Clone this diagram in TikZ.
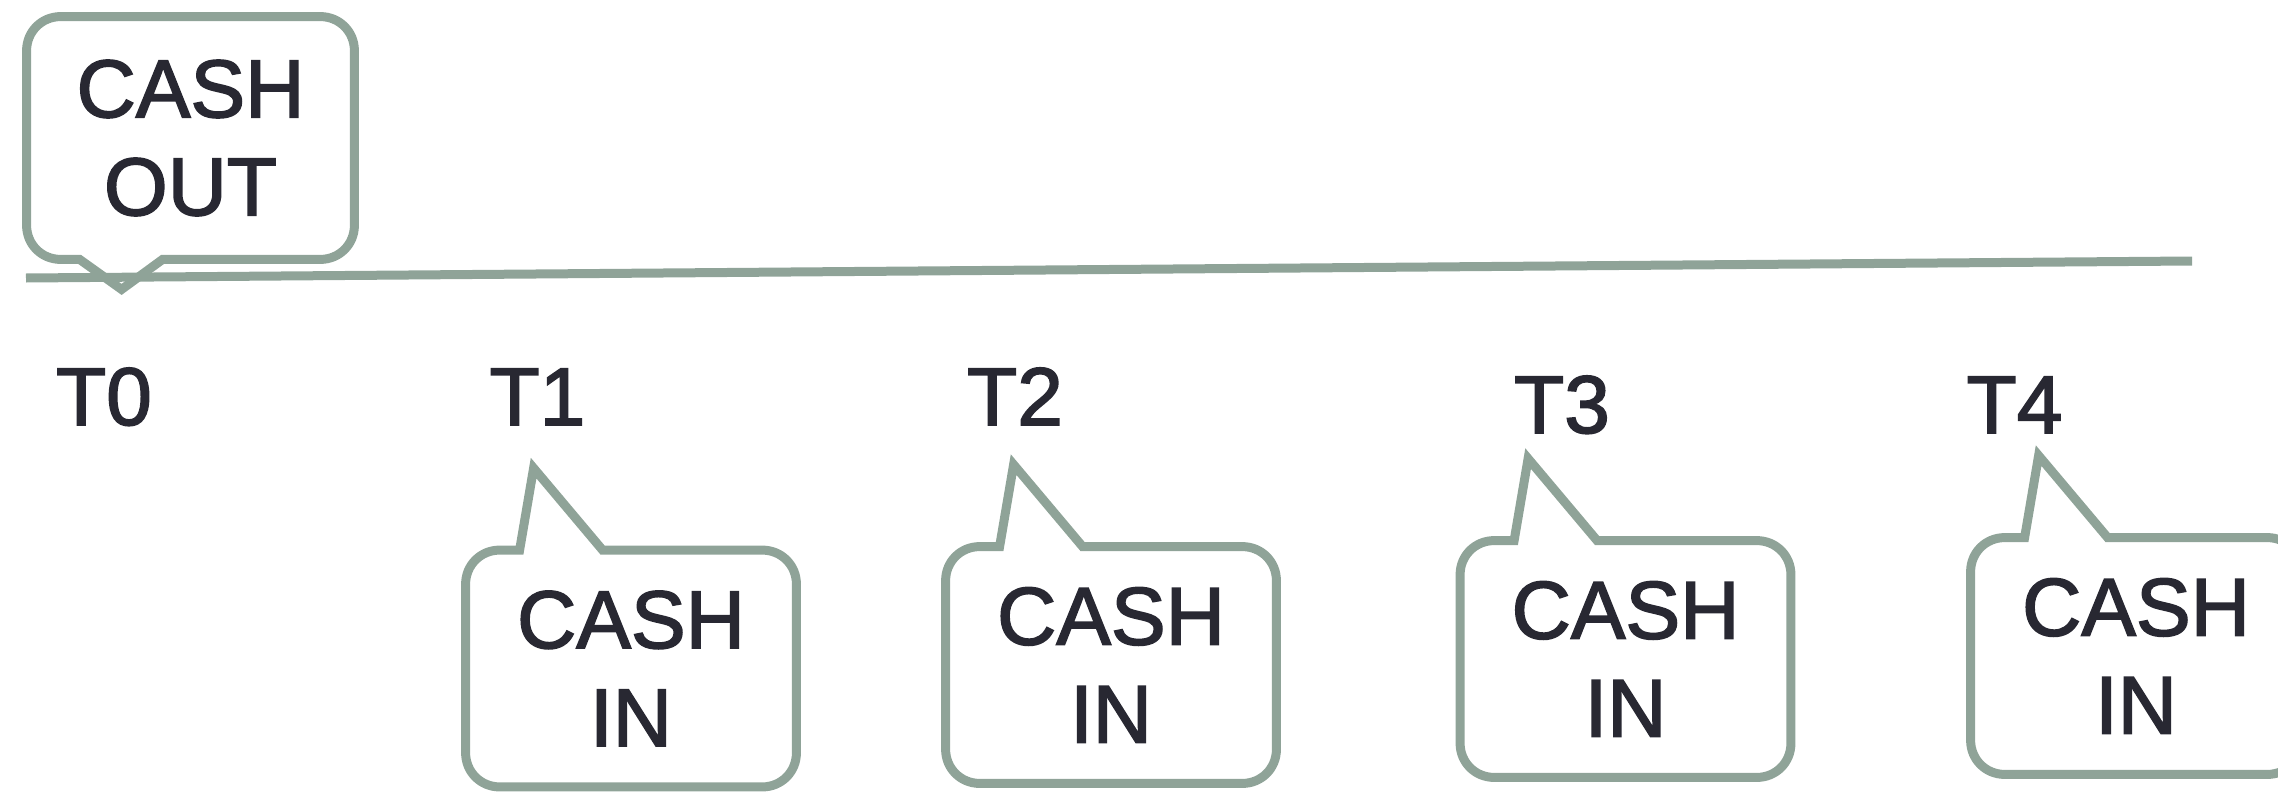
\documentclass[tikz,border=0pt]{standalone}
\usepackage{fontspec}
\setmainfont{Liberation Sans}
\newfontfamily\labelfont[FakeBold=2]{Liberation Sans}
\usetikzlibrary{calc}
\definecolor{lineclr}{RGB}{143,163,152}
\definecolor{txtclr}{RGB}{40,40,50}
\tikzset{
  x=0.5pt, y=-0.5pt,
  tl/.style={draw=lineclr, line width=4.5pt, line cap=butt},
  bubble/.style={draw=lineclr, line width=4.5pt, line join=miter},
  boxtext/.style={inner sep=0pt, minimum width=165pt, minimum height=118pt, align=center,
    text=txtclr, font=\labelfont\fontsize{41}{49}\selectfont},
  tlabel/.style={inner sep=0pt, anchor=base, text=txtclr, font=\labelfont\fontsize{41}{49}\selectfont},
}
% CASH IN bubble outline around node #1 (pointer on top)
\newcommand\inbubble[1]{%
  \draw[bubble] ($(#1.north west)+(54,0)$) -- ($(#1.north west)+(68,-82)$) -- ($(#1.north west)+(137,0)$)
   -- ($(#1.north east)+(-34,0)$) .. controls ($(#1.north east)+(-15,0)$) and ($(#1.north east)+(0,15)$) .. ($(#1.north east)+(0,34)$)
   -- ($(#1.south east)+(0,-34)$) .. controls ($(#1.south east)+(0,-15)$) and ($(#1.south east)+(-15,0)$) .. ($(#1.south east)+(-34,0)$)
   -- ($(#1.south west)+(34,0)$) .. controls ($(#1.south west)+(15,0)$) and ($(#1.south west)+(0,-15)$) .. ($(#1.south west)+(0,-34)$)
   -- ($(#1.north west)+(0,34)$) .. controls ($(#1.north west)+(0,15)$) and ($(#1.north west)+(15,0)$) .. ($(#1.north west)+(34,0)$)
   -- cycle;}
\begin{document}
\begin{tikzpicture}
\useasboundingbox (0,0) rectangle (2278,792);

% CASH OUT
\node[boxtext, minimum width=163.5pt, minimum height=121pt] (out) at (190.5,138) {CASH\\OUT};
\draw[bubble] ($(out.south west)+(53,0)$)
   -- ($(out.south west)+(34,0)$) .. controls ($(out.south west)+(15,0)$) and ($(out.south west)+(0,-15)$) .. ($(out.south west)+(0,-34)$)
   -- ($(out.north west)+(0,34)$) .. controls ($(out.north west)+(0,15)$) and ($(out.north west)+(15,0)$) .. ($(out.north west)+(34,0)$)
   -- ($(out.north east)+(-34,0)$) .. controls ($(out.north east)+(-15,0)$) and ($(out.north east)+(0,15)$) .. ($(out.north east)+(0,34)$)
   -- ($(out.south east)+(0,-34)$) .. controls ($(out.south east)+(0,-15)$) and ($(out.south east)+(-15,0)$) .. ($(out.south east)+(-34,0)$)
   -- ($(out.south west)+(136,0)$) -- ($(out.south west)+(95,30)$) -- cycle;

% time line
\coordinate (L0) at (26,278);
\coordinate (L1) at (2192,261);
\draw[tl] (L0) -- (L1);

% time labels
\node[tlabel] (t0) at (104,425) {T0};
\node[tlabel] (t1) at (537.5,425) {T1};
\node[tlabel] (t2) at (1015,425) {T2};
\node[tlabel] (t3) at (1562,433) {T3};
\node[tlabel] (t4) at (2014.5,433) {T4};

% CASH IN bubbles
\node[boxtext] (in1) at (631,668.5) {CASH\\IN};
\node[boxtext] (in2) at (1111,665) {CASH\\IN};
\node[boxtext] (in3) at (1625.5,659) {CASH\\IN};
\node[boxtext] (in4) at (2136,656) {CASH\\IN};
\inbubble{in1}
\inbubble{in2}
\inbubble{in3}
\inbubble{in4}
\end{tikzpicture}
\end{document}
